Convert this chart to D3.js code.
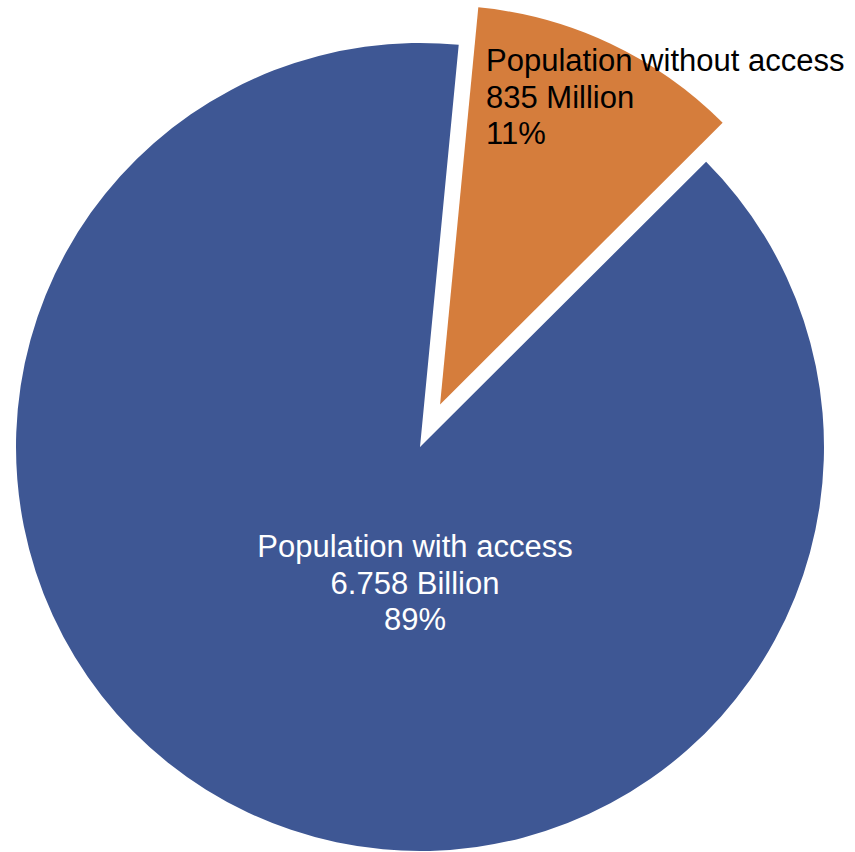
<!DOCTYPE html>
<html>
<head>
<meta charset="utf-8">
<script src="https://cdn.jsdelivr.net/npm/d3@7"></script>
<style>
  html, body { margin: 0; padding: 0; background: #ffffff; }
  svg { display: block; }
</style>
</head>
<body>
<svg id="chart" width="855" height="852"></svg>
<script>
// ---- Data ----
const categories = ["Population without access", "Population with access"];
const values = [835, 6758];                 // millions
const valueLabels = ["835 Million", "6.758 Billion"];
const percentLabels = ["11%", "89%"];
const colors = ["#d57d3c", "#3e5794"];

// ---- Layout ----
const width = 855, height = 852;
const cx = 420, cy = 447;
const radius = 404;
const explodedRadius = 399;
const explodeDist = 47;
const fontSize = 31;
const lineH = 36.5;

const svg = d3.select("#chart");
const g = svg.append("g").attr("transform", `translate(${cx},${cy})`);

const startDeg = 5.5;
const pie = d3.pie()
  .sort(null)
  .value(d => d)
  .startAngle(startDeg * Math.PI / 180)
  .endAngle((startDeg + 360) * Math.PI / 180);

const arcs = pie(values);

const arcFull = d3.arc().innerRadius(0).outerRadius(radius);
const arcExpl = d3.arc().innerRadius(0).outerRadius(explodedRadius);

g.selectAll("path.slice")
  .data(arcs)
  .join("path")
  .attr("class", "slice")
  .attr("d", (d, i) => i === 0 ? arcExpl(d) : arcFull(d))
  .attr("fill", (d, i) => colors[i])
  .attr("transform", (d, i) => {
    if (i !== 0) return null;
    const mid = (d.startAngle + d.endAngle) / 2;
    return `translate(${explodeDist * Math.sin(mid)},${-explodeDist * Math.cos(mid)})`;
  });

// ---- Labels ----
const labelSpecs = [
  { x: 66, y: -376, anchor: "start", fill: "#000000" },
  { x: -5, y: 110, anchor: "middle", fill: "#ffffff" }
];

const labels = g.selectAll("text.lbl")
  .data(arcs)
  .join("text")
  .attr("class", "lbl")
  .attr("x", (d, i) => labelSpecs[i].x)
  .attr("y", (d, i) => labelSpecs[i].y)
  .attr("text-anchor", (d, i) => labelSpecs[i].anchor)
  .attr("fill", (d, i) => labelSpecs[i].fill)
  .style("font-family", "'Liberation Sans', Arial, Helvetica, sans-serif")
  .style("font-size", fontSize + "px");

labels.each(function(d, i) {
  const t = d3.select(this);
  const lines = [categories[i], valueLabels[i], percentLabels[i]];
  lines.forEach((ln, k) => {
    t.append("tspan")
      .attr("x", labelSpecs[i].x)
      .attr("dy", k === 0 ? 0 : lineH)
      .text(ln);
  });
});
</script>
</body>
</html>
